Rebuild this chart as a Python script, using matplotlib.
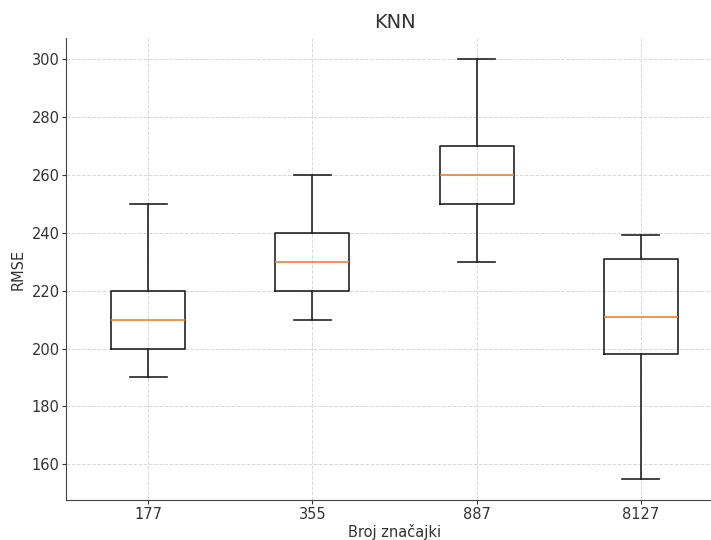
import matplotlib
matplotlib.use("Agg")
import matplotlib.pyplot as plt

categories = ["177", "355", "887", "8127"]
whislo = [190, 210, 230, 154.8]
q1 = [200, 220, 250, 198.2]
med = [210, 230, 260, 210.9]
q3 = [220, 240, 270, 231.0]
whishi = [250, 260, 300, 239.4]

text_c = "#333333"
plt.rcParams.update({
    "font.family": "DejaVu Sans",
    "text.color": text_c,
    "axes.labelcolor": text_c,
    "xtick.color": text_c,
    "ytick.color": text_c,
})

fig = plt.figure(figsize=(7.11, 5.40), dpi=100)
ax = fig.add_axes([66/711, 1-500.3/540, (723-66)/711, (500.3-38.3)/540])

stats = [dict(label=c, whislo=a, q1=b, med=m, q3=d, whishi=e, fliers=[])
         for c, a, b, m, d, e in zip(categories, whislo, q1, med, q3, whishi)]
ax.bxp(stats, showfliers=False,
       boxprops=dict(color="#222222", linewidth=1.2),
       whiskerprops=dict(color="#222222", linewidth=1.2),
       capprops=dict(color="#222222", linewidth=1.2),
       medianprops=dict(color="#f08030", linewidth=1.2))

ax.set_title("KNN", fontsize=14, pad=7.5)
ax.set_xlabel("Broj značajki", fontsize=10.5, labelpad=2)
ax.set_ylabel("RMSE", fontsize=10.5, labelpad=4)
ax.grid(True, linestyle="--", color="#d8d8d8", linewidth=0.7)
ax.set_axisbelow(True)
for s in ["top", "right"]:
    ax.spines[s].set_visible(False)
for s in ["left", "bottom"]:
    ax.spines[s].set_color("#444444")
ax.tick_params(labelsize=10.5, length=3, pad=1.5)

fig.savefig("out.png", dpi=100)
